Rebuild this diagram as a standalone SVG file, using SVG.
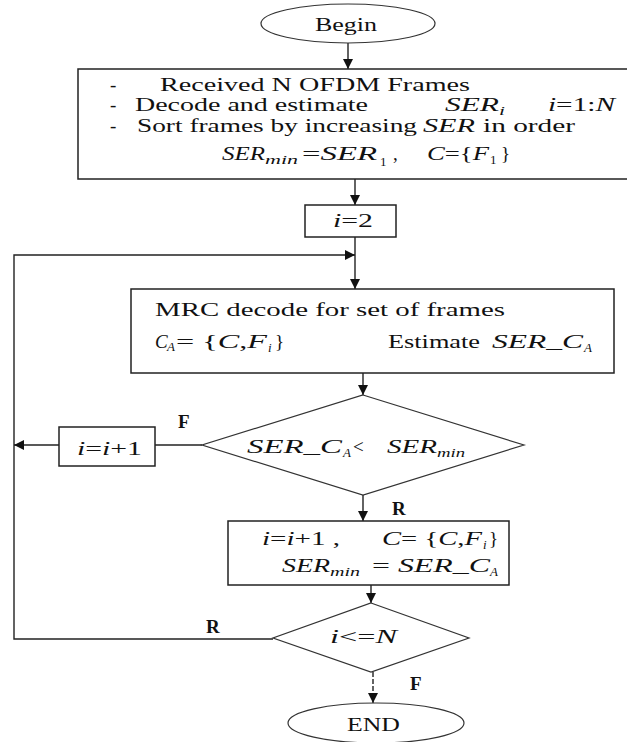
<svg xmlns="http://www.w3.org/2000/svg" width="627" height="742" viewBox="0 0 627 742">
<style>
.t{font-family:"Liberation Serif","Times New Roman",serif;font-size:19px;fill:#111}
.i{font-style:italic}
.s{font-size:13px}
.b{font-weight:bold}
.box{fill:#fff;stroke:#222;stroke-width:1.5}
.dia{fill:#fff;stroke:#333;stroke-width:1.2}
.c{fill:none;stroke:#222;stroke-width:1.4}
</style>
<defs>
<marker id="ah" viewBox="0 0 10 10" refX="10" refY="5" markerUnits="userSpaceOnUse" markerWidth="10" markerHeight="10" orient="auto">
<path d="M0,0 L10,5 L0,10 z" fill="#111"/>
</marker>
</defs>
<rect width="627" height="742" fill="#fff"/>
<g id="connectors">
<line class="c" x1="348" y1="43" x2="348" y2="69" marker-end="url(#ah)"/>
<line class="c" x1="355" y1="179" x2="355" y2="205" marker-end="url(#ah)"/>
<line class="c" x1="355" y1="237" x2="355" y2="289" marker-end="url(#ah)"/>
<polyline class="c" points="273,639 14,639 14,255 355,255" marker-end="url(#ah)"/>
<line class="c" x1="202" y1="445" x2="155" y2="445"/>
<line class="c" x1="59" y1="445" x2="14" y2="445" marker-end="url(#ah)"/>
<line class="c" x1="363" y1="373" x2="363" y2="395" marker-end="url(#ah)"/>
<line class="c" x1="363" y1="495" x2="363" y2="521" marker-end="url(#ah)"/>
<line class="c" x1="371" y1="585" x2="371" y2="603" marker-end="url(#ah)"/>
<line class="c" x1="373" y1="672" x2="373" y2="703" stroke-dasharray="5,2" marker-end="url(#ah)"/>
<text class="t b" x="178" y="428">F</text>
<text class="t b" x="392" y="515">R</text>
<text class="t b" x="206" y="633">R</text>
<text class="t b" x="410" y="690">F</text>
</g>
<g id="begin">
<ellipse class="dia" cx="348" cy="23.5" rx="87" ry="19.5"/>
<text class="t" x="315" y="31" textLength="62" lengthAdjust="spacingAndGlyphs">Begin</text>
</g>
<g id="init">
<rect class="box" x="78" y="69" width="560" height="110"/>
<text class="t" x="110" y="91">-</text>
<text class="t" x="160" y="91" textLength="310" lengthAdjust="spacingAndGlyphs">Received N OFDM Frames</text>
<text class="t" x="110" y="111">-</text>
<text class="t" x="135" y="111" textLength="233" lengthAdjust="spacingAndGlyphs">Decode and estimate</text>
<text class="t i" x="445" y="111" textLength="60" lengthAdjust="spacingAndGlyphs">SER<tspan class="s" dy="4">i</tspan></text>
<text class="t" x="548" y="111" textLength="67" lengthAdjust="spacingAndGlyphs"><tspan class="i">i</tspan>=1:<tspan class="i">N</tspan></text>
<text class="t" x="110" y="132">-</text>
<text class="t" x="137" y="132" textLength="280" lengthAdjust="spacingAndGlyphs">Sort frames by increasing</text>
<text class="t i" x="423" y="132" textLength="52" lengthAdjust="spacingAndGlyphs">SER</text>
<text class="t" x="483" y="132" textLength="92" lengthAdjust="spacingAndGlyphs">in order</text>
<text class="t i" x="222" y="160" textLength="43" lengthAdjust="spacingAndGlyphs">SER</text>
<text class="t i s" x="265" y="164" textLength="33" lengthAdjust="spacingAndGlyphs">min</text>
<text class="t" x="302" y="160" textLength="75" lengthAdjust="spacingAndGlyphs">=<tspan class="i">SER</tspan></text>
<text class="t s" x="380" y="166">1</text>
<text class="t" x="393" y="160">,</text>
<text class="t" x="427" y="160" textLength="62" lengthAdjust="spacingAndGlyphs"><tspan class="i">C</tspan>={<tspan class="i">F</tspan></text>
<text class="t s" x="490" y="164">1</text>
<text class="t" x="501" y="160">}</text>
</g>
<g id="set-i">
<rect class="box" x="305" y="205" width="91" height="32"/>
<text class="t" x="333" y="227" textLength="40" lengthAdjust="spacingAndGlyphs"><tspan class="i">i</tspan>=2</text>
</g>
<g id="mrc">
<rect class="box" x="131" y="289" width="483" height="84"/>
<text class="t" x="155" y="316" textLength="350" lengthAdjust="spacingAndGlyphs">MRC decode for set of frames</text>
<text class="t i" x="155" y="348">C</text>
<text class="t i s" x="167" y="351">A</text>
<text class="t" x="176" y="348" textLength="91" lengthAdjust="spacingAndGlyphs">= {<tspan class="i">C</tspan>,<tspan class="i">F</tspan></text>
<text class="t i s" x="268" y="352">i</text>
<text class="t" x="275" y="348">}</text>
<text class="t" x="388" y="348" textLength="92" lengthAdjust="spacingAndGlyphs">Estimate</text>
<text class="t i" x="492" y="348" textLength="91" lengthAdjust="spacingAndGlyphs">SER_C</text>
<text class="t i s" x="584" y="352">A</text>
</g>
<g id="check-ser">
<polygon class="dia" points="363,395 524,445 363,495 202,445"/>
<text class="t i" x="247" y="453" textLength="95" lengthAdjust="spacingAndGlyphs">SER_C</text>
<text class="t i s" x="343" y="457">A</text>
<text class="t" x="353" y="453">&lt;</text>
<text class="t i" x="387" y="453" textLength="50" lengthAdjust="spacingAndGlyphs">SER</text>
<text class="t i s" x="437" y="457" textLength="28" lengthAdjust="spacingAndGlyphs">min</text>
</g>
<g id="inc-false">
<rect class="box" x="59" y="427" width="96" height="39"/>
<text class="t" x="77" y="455" textLength="65" lengthAdjust="spacingAndGlyphs"><tspan class="i">i</tspan>=<tspan class="i">i</tspan>+1</text>
</g>
<g id="update">
<rect class="box" x="228" y="521" width="281" height="64"/>
<text class="t" x="262" y="545" textLength="78" lengthAdjust="spacingAndGlyphs"><tspan class="i">i</tspan>=<tspan class="i">i</tspan>+1 ,</text>
<text class="t" x="382" y="545" textLength="100" lengthAdjust="spacingAndGlyphs"><tspan class="i">C</tspan>= {<tspan class="i">C</tspan>,<tspan class="i">F</tspan></text>
<text class="t i s" x="483" y="549">i</text>
<text class="t" x="489" y="545">}</text>
<text class="t i" x="282" y="572" textLength="48" lengthAdjust="spacingAndGlyphs">SER</text>
<text class="t i s" x="330" y="576" textLength="30" lengthAdjust="spacingAndGlyphs">min</text>
<text class="t" x="372" y="572" textLength="118" lengthAdjust="spacingAndGlyphs">= <tspan class="i">SER_C</tspan></text>
<text class="t i s" x="490" y="576">A</text>
</g>
<g id="check-n">
<polygon class="dia" points="371,603 469,638 371,672 273,638"/>
<text class="t" x="330" y="643" textLength="67" lengthAdjust="spacingAndGlyphs"><tspan class="i">i</tspan>&lt;=<tspan class="i">N</tspan></text>
</g>
<g id="end">
<ellipse class="dia" cx="376" cy="723" rx="88" ry="20"/>
<text class="t" x="347" y="731" textLength="53" lengthAdjust="spacingAndGlyphs">END</text>
</g>
</svg>
